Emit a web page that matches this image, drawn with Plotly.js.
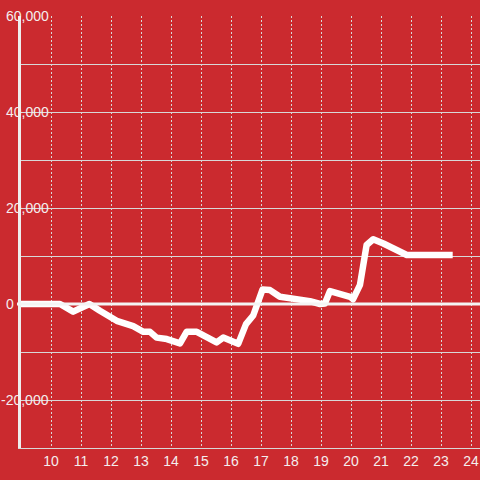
<!DOCTYPE html>
<html>
<head>
<meta charset="utf-8">
<script src="https://cdn.plot.ly/plotly-3.0.1.min.js"></script>
<style>
  html, body { margin: 0; padding: 0; background: #cb2a2f; }
  #chart { width: 480px; height: 480px; }
  #chart path.js-line { stroke-linejoin: round !important; }
</style>
</head>
<body>
<div id="chart"></div>
<script>
// ---- data ----
const xValues = [9, 10.3, 10.74, 11.28, 11.63, 11.91, 12.19, 12.74, 13.08, 13.3, 13.52, 13.86, 14.3, 14.52, 14.86, 15.19, 15.52, 15.74, 15.91, 16.24, 16.5, 16.74, 17.05, 17.3, 17.63, 17.97, 18.3, 18.63, 18.97, 19.13, 19.3, 19.63, 19.97, 20.07, 20.3, 20.52, 20.74, 21.08, 21.36, 21.63, 21.86, 23.39];
const yValues = [0, 0, -1600, 0, -1400, -2300, -3500, -4600, -5800, -5800, -7000, -7300, -8200, -5800, -5800, -6900, -8000, -7000, -7400, -8300, -4200, -2400, 3000, 2900, 1500, 1200, 1000, 600, 0, 100, 2700, 2200, 1500, 1000, 4000, 12300, 13500, 12600, 11700, 10600, 10200, 10200];
const xTickValues = [10, 11, 12, 13, 14, 15, 16, 17, 18, 19, 20, 21, 22, 23, 24];
const xTickLabels = ['10', '11', '12', '13', '14', '15', '16', '17', '18', '19', '20', '21', '22', '23', '24'];
const yTickValues = [-20000, 0, 20000, 40000, 60000];
const yTickLabels = ['-20,000', '0', '20,000', '40,000', '60,000'];

// ---- style ----
const BG = '#cb2a2f';
const GRID = '#d8d8d8';
const TEXT = '#f4eeee';
const FONT = 'Liberation Sans, Arial, sans-serif';

const trace = {
  x: xValues,
  y: yValues,
  type: 'scatter',
  mode: 'lines',
  line: { color: '#ffffff', width: 6.5 },
  hoverinfo: 'skip'
};

const annotations = yTickValues.map((v, i) => ({
  xref: 'paper', x: 0,
  yref: 'y', y: v,
  text: yTickLabels[i],
  showarrow: false,
  xanchor: 'right',
  yanchor: 'middle',
  xshift: v === 0 ? -5 : 30,
  font: { family: FONT, size: 14, color: TEXT }
}));

// red patches hiding the gridline behind each y label (kept below the axis line)
const shapes = yTickValues.filter(v => v !== 0).map(v => ({
  type: 'rect', layer: 'between',
  xref: 'paper', xsizemode: 'pixel', xanchor: 0, x0: 1, x1: 32,
  yref: 'y', ysizemode: 'pixel', yanchor: v, y0: -3, y1: 3,
  fillcolor: BG, line: { width: 0 }
}));
// short gap at the top of the dotted vertical gridlines
shapes.push({
  type: 'rect', layer: 'between',
  xref: 'paper', x0: 0, x1: 1,
  yref: 'paper', ysizemode: 'pixel', yanchor: 1, y0: -7, y1: -1.5,
  fillcolor: BG, line: { width: 0 }
});
// zero line
shapes.push({
  type: 'line', layer: 'above',
  xref: 'paper', x0: -4 / 459, x1: 1,
  yref: 'y', y0: 0, y1: 0,
  line: { color: '#f4f4f4', width: 3 }
});

const layout = {
  width: 480, height: 480,
  margin: { l: 21, r: 0, t: 16, b: 32, pad: 0 },
  paper_bgcolor: BG,
  plot_bgcolor: BG,
  showlegend: false,
  font: { family: FONT, size: 14, color: TEXT },
  xaxis: {
    range: [9, 24.3],
    tickmode: 'array',
    tickvals: xTickValues,
    ticktext: xTickLabels,
    ticks: '',
    tickfont: { family: FONT, size: 14, color: TEXT },
    showgrid: true,
    gridcolor: GRID,
    gridwidth: 1,
    griddash: '2px,2px',
    zeroline: false,
    showline: true,
    linecolor: GRID,
    linewidth: 1,
    fixedrange: true
  },
  yaxis: {
    range: [-30000, 60000],
    tick0: 0,
    dtick: 10000,
    showticklabels: false,
    ticks: '',
    showgrid: true,
    gridcolor: GRID,
    gridwidth: 1,
    zeroline: false,
    showline: true,
    linecolor: '#eeeeee',
    linewidth: 3,
    fixedrange: true
  },
  annotations: annotations,
  shapes: shapes
};

Plotly.newPlot('chart', [trace], layout, { displayModeBar: false, staticPlot: true });
</script>
</body>
</html>
